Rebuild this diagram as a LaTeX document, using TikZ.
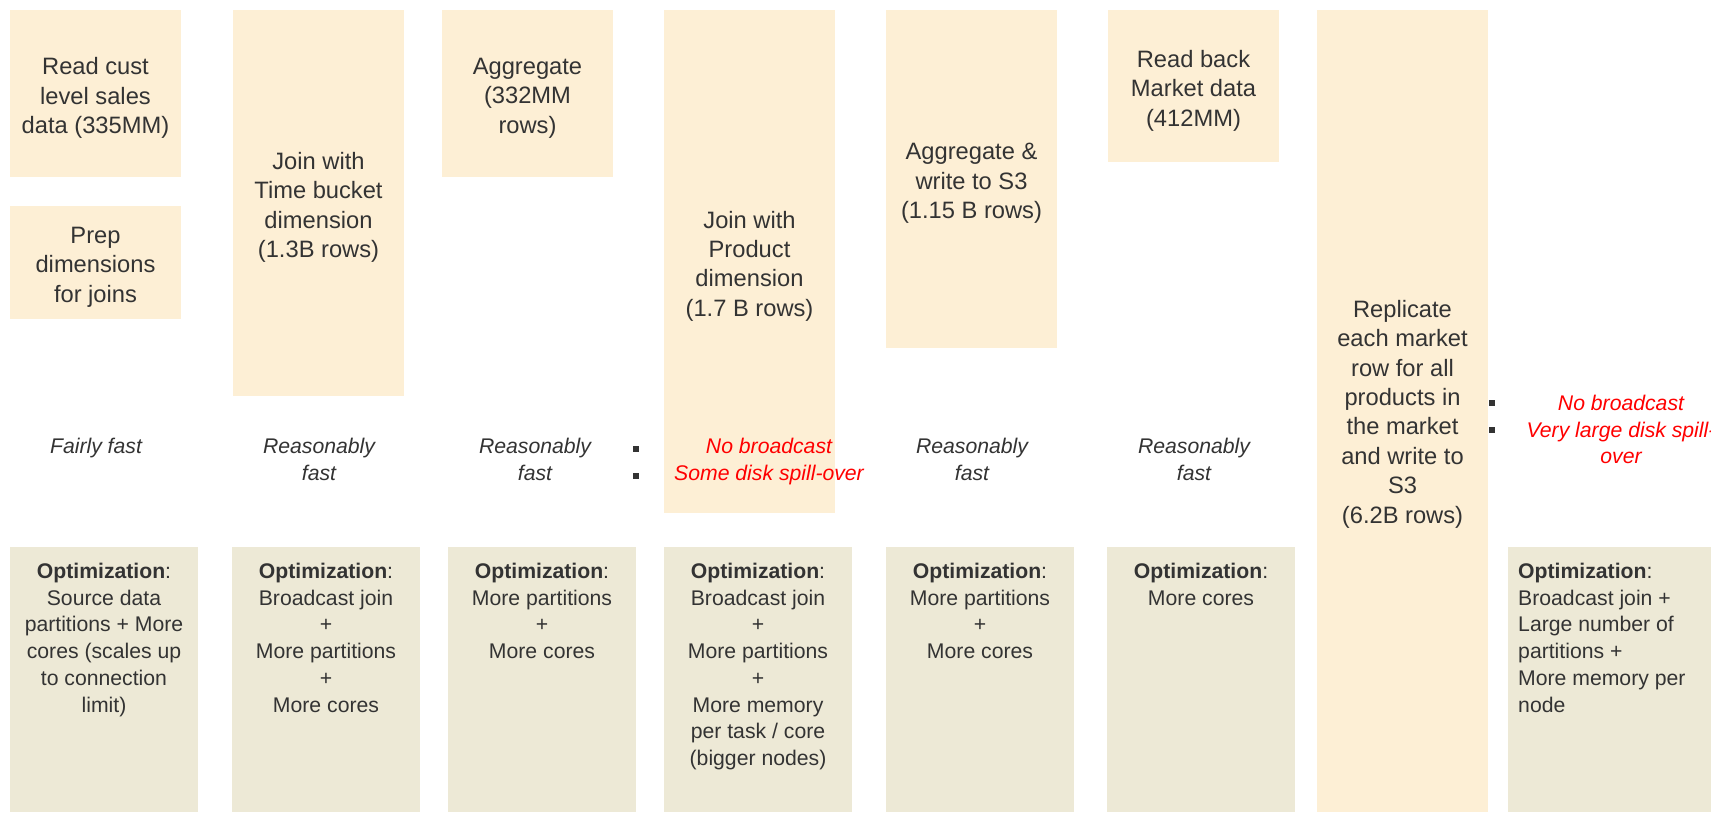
\documentclass[tikz,border=0pt]{standalone}
\usepackage{fontspec}
\setmainfont{Liberation Sans}
\definecolor{peach}{RGB}{253,239,213}
\definecolor{olive}{RGB}{237,233,214}
\definecolor{txt}{RGB}{51,51,51}
\definecolor{alert}{RGB}{255,0,0}
\begin{document}
\begin{tikzpicture}[x=1pt,y=-1pt,
  topbox/.style={fill=peach, draw=none, inner sep=0pt, minimum width=171pt},
  toptext/.style={inner sep=0pt, align=center, text=txt, font=\fontsize{23.7}{29.4}\selectfont},
  optbox/.style={fill=olive, draw=none, inner sep=0pt, minimum width=188pt, minimum height=265pt},
  opttext/.style={anchor=north, align=center, inner sep=0pt, text=txt,
    font=\fontsize{21.2}{26.7}\selectfont},
  note/.style={anchor=north, align=center, inner sep=0pt, text=txt,
    font=\fontsize{21.2}{26.7}\selectfont\itshape},
  rednote/.style={note, text=alert},
  bulletbox/.style={fill=txt, draw=none, minimum size=6.7pt, inner sep=0pt}
]
\useasboundingbox (0,0) rectangle (1711,812);

% top process boxes
\node[topbox, minimum height=167pt] (b1) at (95.5,93.5) {};
\node[topbox, minimum height=113pt] (b2) at (95.5,262.5) {};
\node[topbox, minimum height=386pt] (b3) at (318.5,203) {};
\node[topbox, minimum height=167pt] (b4) at (527.5,93.5) {};
\node[topbox, minimum height=503pt] (b5) at (749.5,261.5) {};
\node[topbox, minimum height=338pt] (b6) at (971.5,179) {};
\node[topbox, minimum height=152pt] (b7) at (1193.5,86) {};
\node[topbox, minimum height=802pt] (b8) at (1402.5,411) {};

\node[toptext] (b1t) at ([yshift=-4.5pt]b1.center) {Read cust\\level sales\\data (335MM)};
\node[toptext] (b2t) at ([yshift=-4.5pt]b2.center) {Prep\\dimensions\\for joins};
\node[toptext] (b3t) at ([yshift=-4.5pt]b3.center) {Join with\\Time bucket\\dimension\\(1.3B rows)};
\node[toptext] (b4t) at ([yshift=-4.5pt]b4.center) {Aggregate\\(332MM\\rows)};
\node[toptext] (b5t) at ([yshift=-4.5pt]b5.center) {Join with\\Product\\dimension\\(1.7 B rows)};
\node[toptext] (b6t) at ([yshift=-4.5pt]b6.center) {Aggregate \&\\write to S3\\(1.15 B rows)};
\node[toptext] (b7t) at ([yshift=-4.5pt]b7.center) {Read back\\Market data\\(412MM)};
\node[toptext] (b8t) at ([yshift=-3pt]b8.center) {Replicate\\each market\\row for all\\products in\\the market\\and write to\\S3\\(6.2B rows)};

% optimization boxes
\node[optbox] (o1) at (104,679.5) {};
\node[optbox] (o2) at (326,679.5) {};
\node[optbox] (o3) at (542,679.5) {};
\node[optbox] (o4) at (758,679.5) {};
\node[optbox] (o5) at (980,679.5) {};
\node[optbox] (o6) at (1201,679.5) {};
\node[optbox, minimum width=203pt] (o7) at (1609.5,679.5) {};

\node[opttext] (t1) at (104,563) {\textbf{Optimization}:\\Source data\\partitions + More\\cores (scales up\\to connection\\limit)};
\node[opttext] (t2) at (326,563) {\textbf{Optimization}:\\Broadcast join\\+\\More partitions\\+\\More cores};
\node[opttext] (t3) at (542,563) {\textbf{Optimization}:\\More partitions\\+\\More cores};
\node[opttext] (t4) at (758,563) {\textbf{Optimization}:\\Broadcast join\\+\\More partitions\\+\\More memory\\per task / core\\(bigger nodes)};
\node[opttext] (t5) at (980,563) {\textbf{Optimization}:\\More partitions\\+\\More cores};
\node[opttext] (t6) at (1201,563) {\textbf{Optimization}:\\More cores};
\node[opttext, anchor=north west, align=left] (t7) at (1518,563) {\textbf{Optimization}:\\Broadcast join +\\Large number of\\partitions +\\More memory per\\node};

% performance notes
\node[note] (n1) at (96,438) {Fairly fast};
\node[note] (n2) at (319,438) {Reasonably\\fast};
\node[note] (n3) at (535,438) {Reasonably\\fast};
\node[rednote] (n4) at (769,438) {No broadcast\\Some disk spill-over};
\node[note] (n5) at (972,438) {Reasonably\\fast};
\node[note] (n6) at (1194,438) {Reasonably\\fast};
\node[rednote] (n7) at (1621,395) {No broadcast\\Very large disk spill-\\over};

% bullets
\node[bulletbox] (p1) at (636,449) {};
\node[bulletbox] (p2) at (636,476) {};
\node[bulletbox] (p3) at (1492,403) {};
\node[bulletbox] (p4) at (1492,430) {};
\end{tikzpicture}
\end{document}
